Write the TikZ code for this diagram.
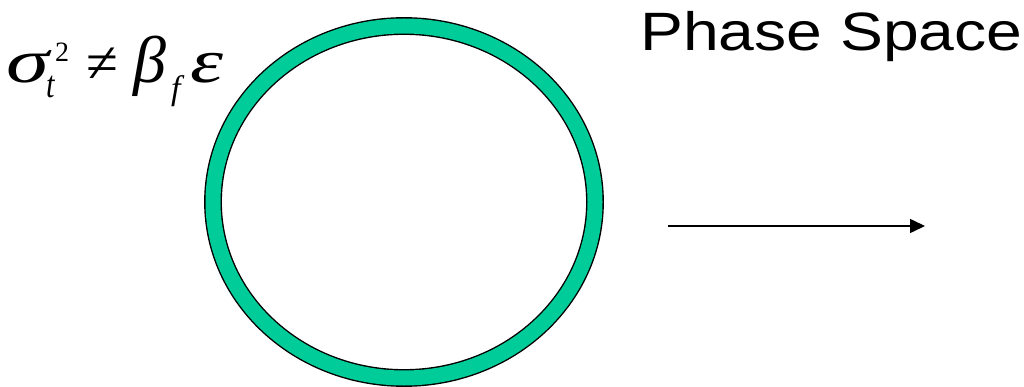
\documentclass[tikz,border=0pt]{standalone}
\usepackage{fontspec}
\setmainfont{Liberation Serif}
\newfontfamily\arialfont{Liberation Sans}
\usetikzlibrary{arrows.meta,shapes.geometric}
\definecolor{ringteal}{RGB}{0,204,153}
\newcommand{\glyphat}[5]{\makebox[0pt][l]{\hspace*{#1pt}\raisebox{#2pt}{\fontsize{#3}{#3}\selectfont\scalebox{#4}[1]{#5}}}}
\tikzset{
  ring/.style={ellipse, draw=black, line width=1.4pt, double=ringteal, double distance=15pt, inner sep=0pt, minimum width=382pt, minimum height=352pt},
  arrowline/.style={line width=1.5pt, -{Triangle[length=15pt,width=14pt]}},
  title/.style={font=\arialfont\fontsize{54}{54}\selectfont, inner sep=0pt, anchor=base west},
  formula/.style={inner sep=0pt, anchor=base west}
}
\begin{document}
\begin{tikzpicture}[x=1pt,y=-1pt]
\useasboundingbox (0,0) rectangle (1024,387);
\node[ring] (orbit) at (404,202) {};
\coordinate (a0) at (668,226);
\coordinate (a1) at (925,226);
\draw[arrowline] (a0) -- (a1);
\node[title] (ps) at (640,51) {\scalebox{1.19}[1]{Phase Space}};
\node[formula] (eq) at (0,83) {%
\glyphat{6}{0}{62}{1.4}{\itshape σ}%
\glyphat{55}{21}{28}{1}{2}%
\glyphat{46}{-15}{38}{0.8}{\itshape t}%
\glyphat{86}{0}{58}{1}{≠}%
\glyphat{133}{0}{66}{1}{\itshape β}%
\glyphat{171}{-17}{34}{1}{\itshape f}%
\glyphat{190}{0}{62}{1.35}{\itshape ε}%
\hspace*{232pt}};
\end{tikzpicture}
\end{document}
